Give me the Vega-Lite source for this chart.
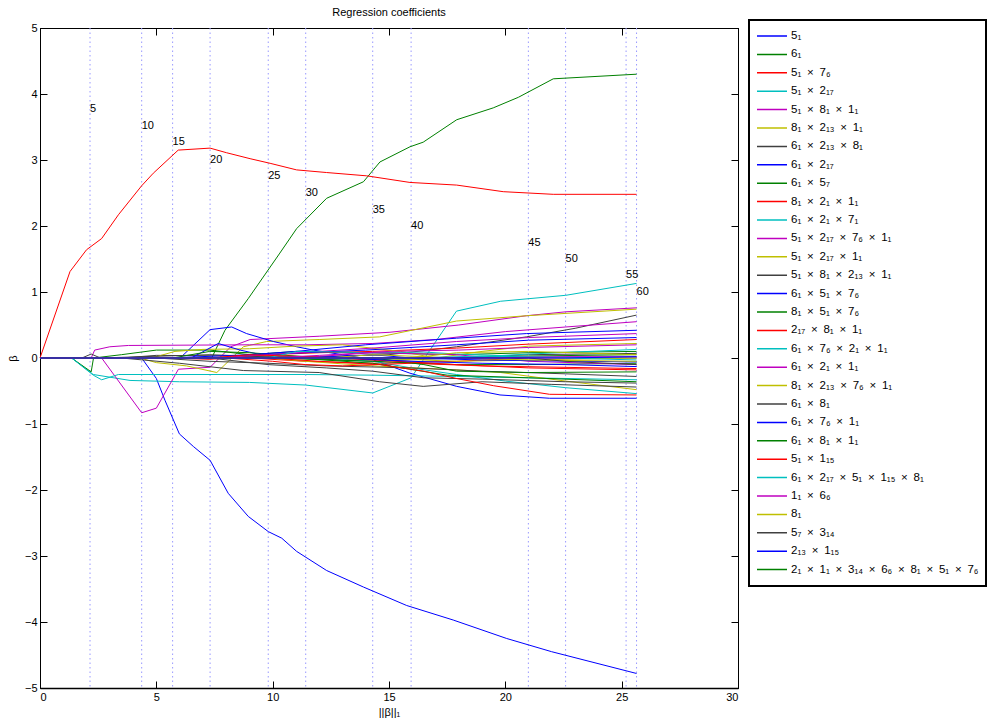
{
"$schema":"https://vega.github.io/schema/vega-lite/v6.json",
"width":698,"height":660,
"autosize":{"type":"none"},
"padding":{"left":40,"top":28,"right":250,"bottom":34},
"background":"white",
"title":{"text":"Regression coefficients","fontSize":11,"fontWeight":"normal","font":"Liberation Sans","offset":1,"anchor":"middle","color":"black"},
"config":{"view":{"stroke":"black","strokeWidth":1},"font":"Liberation Sans",
 "legend":{"strokeWidth":2},
 "axis":{"grid":false,"domainColor":"black","tickColor":"black","labelColor":"black","titleColor":"black","labelFont":"Liberation Sans","titleFont":"Liberation Sans","labelFontSize":11,"titleFontSize":11,"titleFontWeight":"normal","tickSize":-7,"labelPadding":10}},
"datasets":{
"names":[{"k":1,"name":"5₁"},{"k":2,"name":"6₁"},{"k":3,"name":"5₁ × 7₆"},{"k":4,"name":"5₁ × 2₁₇"},{"k":5,"name":"5₁ × 8₁ × 1₁"},{"k":6,"name":"8₁ × 2₁₃ × 1₁"},{"k":7,"name":"6₁ × 2₁₃ × 8₁"},{"k":8,"name":"6₁ × 2₁₇"},{"k":9,"name":"6₁ × 5₇"},{"k":10,"name":"8₁ × 2₁ × 1₁"},{"k":11,"name":"6₁ × 2₁ × 7₁"},{"k":12,"name":"5₁ × 2₁₇ × 7₆ × 1₁"},{"k":13,"name":"5₁ × 2₁₇ × 1₁"},{"k":14,"name":"5₁ × 8₁ × 2₁₃ × 1₁"},{"k":15,"name":"6₁ × 5₁ × 7₆"},{"k":16,"name":"8₁ × 5₁ × 7₆"},{"k":17,"name":"2₁₇ × 8₁ × 1₁"},{"k":18,"name":"6₁ × 7₆ × 2₁ × 1₁"},{"k":19,"name":"6₁ × 2₁ × 1₁"},{"k":20,"name":"8₁ × 2₁₃ × 7₆ × 1₁"},{"k":21,"name":"6₁ × 8₁"},{"k":22,"name":"6₁ × 7₆ × 1₁"},{"k":23,"name":"6₁ × 8₁ × 1₁"},{"k":24,"name":"5₁ × 1₁₅"},{"k":25,"name":"6₁ × 2₁₇ × 5₁ × 1₁₅ × 8₁"},{"k":26,"name":"1₁ × 6₆"},{"k":27,"name":"8₁"},{"k":28,"name":"5₇ × 3₁₄"},{"k":29,"name":"2₁₃ × 1₁₅"},{"k":30,"name":"2₁ × 1₁ × 3₁₄ × 6₆ × 8₁ × 5₁ × 7₆"},{"k":31,"name":"v31"},{"k":32,"name":"v32"},{"k":33,"name":"v33"},{"k":34,"name":"v34"},{"k":35,"name":"v35"},{"k":36,"name":"v36"},{"k":37,"name":"v37"},{"k":38,"name":"v38"},{"k":39,"name":"v39"},{"k":40,"name":"v40"},{"k":41,"name":"v41"},{"k":42,"name":"v42"},{"k":43,"name":"v43"}],
"steps":[{"x":2.15,"y":3.78,"t":"5"},{"x":4.37,"y":3.52,"t":"10"},{"x":5.7,"y":3.27,"t":"15"},{"x":7.31,"y":3.0,"t":"20"},{"x":9.81,"y":2.76,"t":"25"},{"x":11.42,"y":2.5,"t":"30"},{"x":14.3,"y":2.25,"t":"35"},{"x":15.95,"y":2.0,"t":"40"},{"x":20.99,"y":1.75,"t":"45"},{"x":22.59,"y":1.5,"t":"50"},{"x":25.19,"y":1.26,"t":"55"},{"x":25.64,"y":1.0,"t":"60"}],
"paths":[
{"k":1,"x":0,"y":0},{"k":1,"x":4.37,"y":0},{"k":1,"x":5.0,"y":-0.31},{"k":1,"x":5.37,"y":-0.64},{"k":1,"x":5.99,"y":-1.15},{"k":1,"x":6.59,"y":-1.34},{"k":1,"x":7.31,"y":-1.55},{"k":1,"x":8.09,"y":-2.05},{"k":1,"x":8.95,"y":-2.4},{"k":1,"x":9.81,"y":-2.63},{"k":1,"x":10.39,"y":-2.73},{"k":1,"x":11.03,"y":-2.93},{"k":1,"x":12.32,"y":-3.22},{"k":1,"x":13.9,"y":-3.47},{"k":1,"x":15.76,"y":-3.75},{"k":1,"x":17.76,"y":-3.97},{"k":1,"x":20.06,"y":-4.25},{"k":1,"x":21.99,"y":-4.45},{"k":1,"x":25.64,"y":-4.78},
{"k":2,"x":0,"y":0},{"k":2,"x":7.38,"y":0},{"k":2,"x":7.95,"y":0.42},{"k":2,"x":8.95,"y":0.9},{"k":2,"x":10.31,"y":1.59},{"k":2,"x":11.03,"y":1.96},{"k":2,"x":12.32,"y":2.42},{"k":2,"x":13.9,"y":2.67},{"k":2,"x":14.61,"y":2.97},{"k":2,"x":15.9,"y":3.2},{"k":2,"x":16.47,"y":3.27},{"k":2,"x":17.91,"y":3.61},{"k":2,"x":19.48,"y":3.79},{"k":2,"x":20.56,"y":3.95},{"k":2,"x":22.06,"y":4.23},{"k":2,"x":25.64,"y":4.3},
{"k":3,"x":0,"y":0},{"k":3,"x":1.29,"y":1.31},{"k":3,"x":2.0,"y":1.64},{"k":3,"x":2.65,"y":1.81},{"k":3,"x":3.37,"y":2.17},{"k":3,"x":4.37,"y":2.61},{"k":3,"x":4.87,"y":2.8},{"k":3,"x":5.94,"y":3.15},{"k":3,"x":7.31,"y":3.18},{"k":3,"x":8.02,"y":3.11},{"k":3,"x":9.03,"y":3.02},{"k":3,"x":9.89,"y":2.95},{"k":3,"x":11.03,"y":2.85},{"k":3,"x":12.32,"y":2.81},{"k":3,"x":14.04,"y":2.76},{"k":3,"x":15.9,"y":2.66},{"k":3,"x":17.91,"y":2.62},{"k":3,"x":19.91,"y":2.52},{"k":3,"x":22.06,"y":2.48},{"k":3,"x":25.64,"y":2.48},
{"k":4,"x":0,"y":0},{"k":4,"x":1.36,"y":0},{"k":4,"x":2.29,"y":-0.25},{"k":4,"x":3.87,"y":-0.34},{"k":4,"x":6,"y":-0.36},{"k":4,"x":9,"y":-0.37},{"k":4,"x":11.42,"y":-0.41},{"k":4,"x":14.3,"y":-0.53},{"k":4,"x":15.95,"y":-0.3},{"k":4,"x":17.9,"y":0.71},{"k":4,"x":19.8,"y":0.86},{"k":4,"x":22.6,"y":0.95},{"k":4,"x":25.64,"y":1.13},
{"k":5,"x":0,"y":0},{"k":5,"x":2.65,"y":0},{"k":5,"x":4.37,"y":-0.83},{"k":5,"x":5.0,"y":-0.76},{"k":5,"x":5.95,"y":-0.17},{"k":5,"x":7.31,"y":-0.14},{"k":5,"x":8.2,"y":0.17},{"k":5,"x":9.03,"y":0.28},{"k":5,"x":12,"y":0.33},{"k":5,"x":15.04,"y":0.39},{"k":5,"x":18,"y":0.5},{"k":5,"x":20.9,"y":0.64},{"k":5,"x":22.6,"y":0.7},{"k":5,"x":25.64,"y":0.76},
{"k":6,"x":0,"y":0},{"k":6,"x":4.3,"y":0},{"k":6,"x":5.0,"y":-0.07},{"k":6,"x":6.3,"y":-0.12},{"k":6,"x":7.6,"y":-0.22},{"k":6,"x":8.74,"y":0.17},{"k":6,"x":9.74,"y":0.25},{"k":6,"x":12,"y":0.28},{"k":6,"x":14.6,"y":0.32},{"k":6,"x":17.9,"y":0.56},{"k":6,"x":20.9,"y":0.64},{"k":6,"x":25.64,"y":0.74},
{"k":7,"x":0,"y":0},{"k":7,"x":3.5,"y":0},{"k":7,"x":5,"y":0.04},{"k":7,"x":9,"y":0.03},{"k":7,"x":12,"y":0.02},{"k":7,"x":15,"y":0.05},{"k":7,"x":17.9,"y":0.17},{"k":7,"x":20.9,"y":0.32},{"k":7,"x":23,"y":0.45},{"k":7,"x":25.64,"y":0.65},
{"k":8,"x":0,"y":0},{"k":8,"x":6.02,"y":0},{"k":8,"x":7.31,"y":0.43},{"k":8,"x":8.24,"y":0.47},{"k":8,"x":8.88,"y":0.37},{"k":8,"x":10.03,"y":0.25},{"k":8,"x":11.03,"y":0.17},{"k":8,"x":11.75,"y":0.12},{"k":8,"x":13,"y":0.05},{"k":8,"x":14.33,"y":-0.03},{"k":8,"x":15.9,"y":-0.23},{"k":8,"x":17.91,"y":-0.43},{"k":8,"x":19.77,"y":-0.56},{"k":8,"x":21.9,"y":-0.61},{"k":8,"x":25.64,"y":-0.61},
{"k":9,"x":0,"y":0},{"k":9,"x":1.36,"y":0},{"k":9,"x":2.2,"y":-0.21},{"k":9,"x":2.3,"y":0.0},{"k":9,"x":3.5,"y":0.05},{"k":9,"x":5,"y":0.12},{"k":9,"x":7.3,"y":0.12},{"k":9,"x":9,"y":0.05},{"k":9,"x":11,"y":0.1},{"k":9,"x":14,"y":0.08},{"k":9,"x":17.9,"y":0.05},{"k":9,"x":21,"y":0.08},{"k":9,"x":25.64,"y":0.1},
{"k":10,"x":0,"y":0},{"k":10,"x":5.7,"y":0},{"k":10,"x":7.3,"y":-0.02},{"k":10,"x":9.8,"y":0.05},{"k":10,"x":12,"y":0.08},{"k":10,"x":14.3,"y":0.1},{"k":10,"x":17.9,"y":0.15},{"k":10,"x":21,"y":0.21},{"k":10,"x":25.64,"y":0.28},
{"k":11,"x":0,"y":0},{"k":11,"x":1.36,"y":0},{"k":11,"x":2.29,"y":-0.26},{"k":11,"x":2.65,"y":-0.33},{"k":11,"x":3.37,"y":-0.25},{"k":11,"x":11.42,"y":-0.25},{"k":11,"x":14.3,"y":-0.26},{"k":11,"x":17.9,"y":-0.28},{"k":11,"x":21,"y":-0.3},{"k":11,"x":25.64,"y":-0.33},
{"k":12,"x":0,"y":0},{"k":12,"x":2.2,"y":0},{"k":12,"x":2.35,"y":0.12},{"k":12,"x":3.0,"y":0.17},{"k":12,"x":3.8,"y":0.19},{"k":12,"x":9,"y":0.2},{"k":12,"x":11.4,"y":0.2},{"k":12,"x":14.3,"y":0.22},{"k":12,"x":17,"y":0.28},{"k":12,"x":20,"y":0.4},{"k":12,"x":22.6,"y":0.47},{"k":12,"x":25.64,"y":0.55},
{"k":13,"x":0,"y":0},{"k":13,"x":4.8,"y":0},{"k":13,"x":5.8,"y":0.1},{"k":13,"x":7,"y":0.13},{"k":13,"x":9,"y":0.14},{"k":13,"x":11,"y":0.18},{"k":13,"x":13,"y":0.2},{"k":13,"x":15.5,"y":0.1},{"k":13,"x":17,"y":0.0},{"k":13,"x":19,"y":0.1},{"k":13,"x":21,"y":0.18},{"k":13,"x":25.64,"y":0.22},
{"k":14,"x":0,"y":0},{"k":14,"x":1.8,"y":0},{"k":14,"x":2.2,"y":0.06},{"k":14,"x":2.6,"y":0.0},{"k":14,"x":4.4,"y":0.02},{"k":14,"x":7.3,"y":0.05},{"k":14,"x":11,"y":0.0},{"k":14,"x":14.3,"y":-0.05},{"k":14,"x":17.9,"y":0.0},{"k":14,"x":21,"y":0.05},{"k":14,"x":25.64,"y":0.07},
{"k":15,"x":0,"y":0},{"k":15,"x":6.5,"y":0},{"k":15,"x":7.66,"y":0.22},{"k":15,"x":8.6,"y":0.12},{"k":15,"x":9.5,"y":0.05},{"k":15,"x":11.4,"y":0.08},{"k":15,"x":14,"y":0.12},{"k":15,"x":17.9,"y":0.2},{"k":15,"x":21,"y":0.27},{"k":15,"x":25.64,"y":0.31},
{"k":16,"x":0,"y":0},{"k":16,"x":5.7,"y":0},{"k":16,"x":7.3,"y":0.1},{"k":16,"x":9,"y":0.08},{"k":16,"x":11.4,"y":0.02},{"k":16,"x":14.3,"y":-0.02},{"k":16,"x":17.9,"y":0.0},{"k":16,"x":21,"y":0.03},{"k":16,"x":25.64,"y":0.05},
{"k":17,"x":0,"y":0},{"k":17,"x":9,"y":0},{"k":17,"x":11.4,"y":-0.05},{"k":17,"x":14.3,"y":-0.08},{"k":17,"x":17.9,"y":-0.05},{"k":17,"x":21,"y":0.0},{"k":17,"x":25.64,"y":0.0},
{"k":18,"x":0,"y":0},{"k":18,"x":12.3,"y":0},{"k":18,"x":14.3,"y":-0.05},{"k":18,"x":15.95,"y":-0.15},{"k":18,"x":17.9,"y":-0.25},{"k":18,"x":20,"y":-0.35},{"k":18,"x":22.6,"y":-0.45},{"k":18,"x":25.64,"y":-0.54},
{"k":19,"x":0,"y":0},{"k":19,"x":7.3,"y":0},{"k":19,"x":9.83,"y":0.05},{"k":19,"x":12,"y":0.1},{"k":19,"x":14.3,"y":0.15},{"k":19,"x":17.9,"y":0.25},{"k":19,"x":21,"y":0.31},{"k":19,"x":25.64,"y":0.37},
{"k":20,"x":0,"y":0},{"k":20,"x":9.8,"y":0},{"k":20,"x":11.4,"y":-0.05},{"k":20,"x":14.3,"y":-0.12},{"k":20,"x":17.9,"y":-0.18},{"k":20,"x":19.8,"y":-0.22},{"k":20,"x":22.6,"y":-0.35},{"k":20,"x":25.64,"y":-0.48},
{"k":21,"x":0,"y":0},{"k":21,"x":5,"y":0},{"k":21,"x":7.3,"y":-0.05},{"k":21,"x":9.8,"y":-0.08},{"k":21,"x":12.3,"y":-0.12},{"k":21,"x":15.95,"y":-0.15},{"k":21,"x":19,"y":-0.2},{"k":21,"x":22.6,"y":-0.24},{"k":21,"x":25.64,"y":-0.28},
{"k":22,"x":0,"y":0},{"k":22,"x":5.5,"y":0},{"k":22,"x":9,"y":0.05},{"k":22,"x":11,"y":0.1},{"k":22,"x":14,"y":0.2},{"k":22,"x":17.9,"y":0.3},{"k":22,"x":20.9,"y":0.37},{"k":22,"x":25.64,"y":0.42},
{"k":23,"x":0,"y":0},{"k":23,"x":10,"y":0},{"k":23,"x":14.3,"y":-0.05},{"k":23,"x":17.9,"y":-0.1},{"k":23,"x":21,"y":-0.1},{"k":23,"x":25.64,"y":-0.08},
{"k":24,"x":0,"y":0},{"k":24,"x":8,"y":0},{"k":24,"x":10,"y":-0.05},{"k":24,"x":11.4,"y":-0.1},{"k":24,"x":13,"y":-0.12},{"k":24,"x":15.95,"y":-0.08},{"k":24,"x":19,"y":-0.12},{"k":24,"x":25.64,"y":-0.16},
{"k":25,"x":0,"y":0},{"k":25,"x":9.8,"y":0},{"k":25,"x":11.03,"y":0.1},{"k":25,"x":14.3,"y":0.08},{"k":25,"x":16.5,"y":0.09},{"k":25,"x":17.9,"y":0.06},{"k":25,"x":21,"y":0.02},{"k":25,"x":25.64,"y":0.0},
{"k":26,"x":0,"y":0},{"k":26,"x":11,"y":0},{"k":26,"x":14.3,"y":0.08},{"k":26,"x":17.9,"y":0.05},{"k":26,"x":21,"y":-0.05},{"k":26,"x":25.64,"y":-0.1},
{"k":27,"x":0,"y":0},{"k":27,"x":14.3,"y":0},{"k":27,"x":17.9,"y":-0.05},{"k":27,"x":21,"y":-0.03},{"k":27,"x":25.64,"y":0.0},
{"k":28,"x":0,"y":0},{"k":28,"x":3.5,"y":0},{"k":28,"x":6,"y":-0.08},{"k":28,"x":8.74,"y":-0.19},{"k":28,"x":12,"y":-0.22},{"k":28,"x":14.6,"y":-0.36},{"k":28,"x":16.47,"y":-0.43},{"k":28,"x":19,"y":-0.36},{"k":28,"x":22,"y":-0.4},{"k":28,"x":25.64,"y":-0.44},
{"k":29,"x":0,"y":0},{"k":29,"x":11.4,"y":0},{"k":29,"x":14.3,"y":0.05},{"k":29,"x":15.95,"y":0.0},{"k":29,"x":19,"y":-0.03},{"k":29,"x":25.64,"y":-0.06},
{"k":30,"x":0,"y":0},{"k":30,"x":14.3,"y":0},{"k":30,"x":16.5,"y":-0.1},{"k":30,"x":17.9,"y":-0.2},{"k":30,"x":21,"y":-0.22},{"k":30,"x":25.64,"y":-0.21},
{"k":31,"x":0,"y":0},{"k":31,"x":7.3,"y":0},{"k":31,"x":9,"y":0.05},{"k":31,"x":11.4,"y":0.02},{"k":31,"x":14.3,"y":-0.03},{"k":31,"x":17.9,"y":-0.1},{"k":31,"x":21,"y":-0.15},{"k":31,"x":25.64,"y":-0.18},
{"k":32,"x":0,"y":0},{"k":32,"x":15.95,"y":0},{"k":32,"x":19,"y":0.03},{"k":32,"x":22.6,"y":0.0},{"k":32,"x":25.64,"y":-0.03},
{"k":33,"x":0,"y":0},{"k":33,"x":9.8,"y":0},{"k":33,"x":12,"y":0.04},{"k":33,"x":15,"y":0.1},{"k":33,"x":18,"y":0.12},{"k":33,"x":21,"y":0.16},{"k":33,"x":25.64,"y":0.2},
{"k":34,"x":0,"y":0},{"k":34,"x":12.3,"y":0},{"k":34,"x":14.3,"y":0.05},{"k":34,"x":17.9,"y":0.0},{"k":34,"x":21,"y":-0.03},{"k":34,"x":25.64,"y":-0.05},
{"k":35,"x":0,"y":0},{"k":35,"x":7.3,"y":0},{"k":35,"x":9.8,"y":-0.1},{"k":35,"x":12.3,"y":-0.15},{"k":35,"x":14.3,"y":-0.2},{"k":35,"x":16.5,"y":-0.3},{"k":35,"x":19,"y":-0.32},{"k":35,"x":22.6,"y":-0.36},{"k":35,"x":25.64,"y":-0.38},
{"k":36,"x":0,"y":0},{"k":36,"x":13,"y":0},{"k":36,"x":15.95,"y":-0.05},{"k":36,"x":19,"y":-0.08},{"k":36,"x":22.6,"y":-0.1},{"k":36,"x":25.64,"y":-0.13},
{"k":37,"x":0,"y":0},{"k":37,"x":11,"y":0},{"k":37,"x":14.3,"y":-0.08},{"k":37,"x":17.5,"y":-0.26},{"k":37,"x":21,"y":-0.3},{"k":37,"x":25.64,"y":-0.36},
{"k":38,"x":0,"y":0},{"k":38,"x":9.83,"y":0},{"k":38,"x":12,"y":-0.05},{"k":38,"x":14.6,"y":-0.1},{"k":38,"x":16.5,"y":-0.2},{"k":38,"x":17.9,"y":-0.31},{"k":38,"x":19.5,"y":-0.42},{"k":38,"x":21.9,"y":-0.55},{"k":38,"x":25.64,"y":-0.56},
{"k":39,"x":0,"y":0},{"k":39,"x":17.9,"y":0},{"k":39,"x":21,"y":0.06},{"k":39,"x":25.64,"y":0.13},
{"k":40,"x":0,"y":0},{"k":40,"x":19,"y":0},{"k":40,"x":22.6,"y":0.02},{"k":40,"x":25.64,"y":0.02},
{"k":41,"x":0,"y":0},{"k":41,"x":15.95,"y":0},{"k":41,"x":17.9,"y":0.08},{"k":41,"x":21,"y":0.1},{"k":41,"x":25.64,"y":0.05},
{"k":42,"x":0,"y":0},{"k":42,"x":21,"y":0},{"k":42,"x":22.6,"y":-0.05},{"k":42,"x":25.64,"y":-0.1},
{"k":43,"x":0,"y":0},{"k":43,"x":22.6,"y":0},{"k":43,"x":25.64,"y":0.02}
]},
"layer":[
{"data":{"name":"steps"},"mark":{"type":"rule","color":"#9999ff","strokeWidth":1,"strokeDash":[1.5,3]},
 "encoding":{"x":{"field":"x","type":"quantitative","scale":{"domain":[0,30],"nice":false,"zero":false},
  "axis":{"orient":"bottom","values":[0,5,10,15,20,25,30],"title":"||β||₁","titlePadding":4,"domainWidth":1.5}}}},
{"data":{"name":"paths"},
 "transform":[{"lookup":"k","from":{"data":{"name":"names"},"key":"k","fields":["name"]}}],
 "mark":{"type":"line","strokeWidth":1},
 "encoding":{
  "x":{"field":"x","type":"quantitative","axis":null},
  "y":{"field":"y","type":"quantitative","scale":{"domain":[-5,5],"nice":false,"zero":false},
   "axis":{"orient":"left","values":[-5,-4,-3,-2,-1,0,1,2,3,4,5],"title":"β","titlePadding":6}},
  "color":{"field":"name","type":"nominal",
   "scale":{"domain":["5₁","6₁","5₁ × 7₆","5₁ × 2₁₇","5₁ × 8₁ × 1₁","8₁ × 2₁₃ × 1₁","6₁ × 2₁₃ × 8₁","6₁ × 2₁₇","6₁ × 5₇","8₁ × 2₁ × 1₁","6₁ × 2₁ × 7₁","5₁ × 2₁₇ × 7₆ × 1₁","5₁ × 2₁₇ × 1₁","5₁ × 8₁ × 2₁₃ × 1₁","6₁ × 5₁ × 7₆","8₁ × 5₁ × 7₆","2₁₇ × 8₁ × 1₁","6₁ × 7₆ × 2₁ × 1₁","6₁ × 2₁ × 1₁","8₁ × 2₁₃ × 7₆ × 1₁","6₁ × 8₁","6₁ × 7₆ × 1₁","6₁ × 8₁ × 1₁","5₁ × 1₁₅","6₁ × 2₁₇ × 5₁ × 1₁₅ × 8₁","1₁ × 6₆","8₁","5₇ × 3₁₄","2₁₃ × 1₁₅","2₁ × 1₁ × 3₁₄ × 6₆ × 8₁ × 5₁ × 7₆","v31","v32","v33","v34","v35","v36","v37","v38","v39","v40","v41","v42","v43"],
    "range":["#0000ff","#008000","#ff0000","#00bfbf","#bf00bf","#bfbf00","#404040","#0000ff","#008000","#ff0000","#00bfbf","#bf00bf","#bfbf00","#404040","#0000ff","#008000","#ff0000","#00bfbf","#bf00bf","#bfbf00","#404040","#0000ff","#008000","#ff0000","#00bfbf","#bf00bf","#bfbf00","#404040","#0000ff","#008000","#ff0000","#00bfbf","#bf00bf","#bfbf00","#404040","#0000ff","#008000","#ff0000","#00bfbf","#bf00bf","#bfbf00","#404040","#0000ff"]},
   "legend":{"title":null,"orient":"none","legendX":709,"legendY":-8,
    "values":["5₁","6₁","5₁ × 7₆","5₁ × 2₁₇","5₁ × 8₁ × 1₁","8₁ × 2₁₃ × 1₁","6₁ × 2₁₃ × 8₁","6₁ × 2₁₇","6₁ × 5₇","8₁ × 2₁ × 1₁","6₁ × 2₁ × 7₁","5₁ × 2₁₇ × 7₆ × 1₁","5₁ × 2₁₇ × 1₁","5₁ × 8₁ × 2₁₃ × 1₁","6₁ × 5₁ × 7₆","8₁ × 5₁ × 7₆","2₁₇ × 8₁ × 1₁","6₁ × 7₆ × 2₁ × 1₁","6₁ × 2₁ × 1₁","8₁ × 2₁₃ × 7₆ × 1₁","6₁ × 8₁","6₁ × 7₆ × 1₁","6₁ × 8₁ × 1₁","5₁ × 1₁₅","6₁ × 2₁₇ × 5₁ × 1₁₅ × 8₁","1₁ × 6₆","8₁","5₇ × 3₁₄","2₁₃ × 1₁₅","2₁ × 1₁ × 3₁₄ × 6₆ × 8₁ × 5₁ × 7₆"],
    "labelExpr":"replace(datum.label, / × /g, '\u2002×\u2002')",
    "strokeColor":"black","fillColor":"white","padding":7,
    "symbolType":"stroke","symbolSize":900,"symbolStrokeWidth":1.5,
    "labelFont":"Liberation Sans","labelFontSize":11.5,"labelColor":"black","labelOffset":3,"labelLimit":400,
    "clipHeight":18,"rowPadding":0.4}}}},
{"data":{"name":"steps"},"mark":{"type":"text","align":"left","baseline":"middle","fontSize":11,"font":"Liberation Sans","color":"black"},
 "encoding":{"x":{"field":"x","type":"quantitative","axis":null},"y":{"field":"y","type":"quantitative","axis":null},"text":{"field":"t"}}},
{"data":{"name":"steps"},"mark":{"type":"rule","opacity":0},
 "encoding":{"x":{"field":"x","type":"quantitative","axis":{"orient":"top","labels":false,"title":null,"values":[0,5,10,15,20,25,30],"domainWidth":1}},
  "y":{"field":"y","type":"quantitative","axis":{"orient":"right","labels":false,"title":null,"values":[-5,-4,-3,-2,-1,0,1,2,3,4,5],"domainWidth":1}}}}
],
"resolve":{"axis":{"x":"independent","y":"independent"}}
}
